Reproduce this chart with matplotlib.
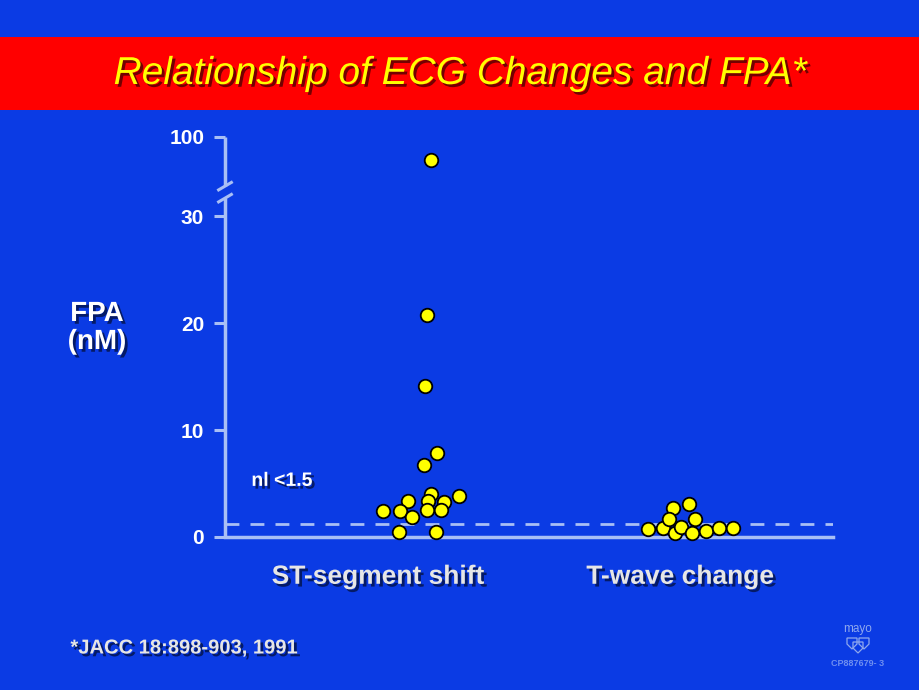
import numpy as np
import matplotlib
matplotlib.use("Agg")
import matplotlib.pyplot as plt
import matplotlib.patheffects as pe
from matplotlib.patches import Rectangle, Polygon

plt.rcParams['font.family'] = ['Liberation Sans', 'DejaVu Sans']

# ---- data ----
categories = ["ST-segment shift", "T-wave change"]
st_values = [80, 20.8, 14.1, 7.9, 6.7, 4.0, 3.8, 3.4, 3.4, 3.3, 2.4, 2.4, 2.5, 2.5, 1.9, 0.5, 0.5]
st_jitter = [0.175, 0.162, 0.156, 0.195, 0.152, 0.175, 0.268, 0.099, 0.166, 0.219, 0.017, 0.073, 0.162, 0.209, 0.113, 0.070, 0.192]
tw_values = [0.75, 0.85, 2.7, 3.1, 1.7, 1.7, 0.4, 0.9, 0.4, 0.55, 0.85, 0.85]
tw_jitter = [-0.106, -0.056, -0.023, 0.030, -0.036, 0.050, -0.017, 0.003, 0.040, 0.086, 0.129, 0.175]
normal_limit = 1.2
y_ticks = [0, 10, 20, 30, 100]
y_ticklabels = ["0", "10", "20", "30", "100"]

BG = "#0b3be4"
AXC = "#a9bff5"

# broken-axis scale: linear to 30, compressed above
K = 7.4 / 70.0
def fwd(v):
    v = np.asarray(v, dtype=float)
    return np.where(v <= 30, v, 30 + (v - 30) * K)
def inv(u):
    u = np.asarray(u, dtype=float)
    return np.where(u <= 30, u, 30 + (u - 30) / K)

fig = plt.figure(figsize=(9.2, 6.9), dpi=100, facecolor=BG)

# red title bar
fig.patches.append(Rectangle((0, 1 - 110/690), 1, 73/690, transform=fig.transFigure,
                             facecolor="#ff0000", edgecolor="none", zorder=0))
shadow = [pe.withSimplePatchShadow(offset=(2, -2), shadow_rgbFace="black", alpha=0.55)]
fig.text(0.5, 1 - 74/690, "Relationship of ECG Changes and FPA*", ha="center", va="center",
         fontsize=28, color="#ffff00", style="italic", path_effects=shadow)

ax = fig.add_axes([225/920, 1 - 537/690, 608/920, 400/690])
ax.set_facecolor(BG)
ax.set_yscale('function', functions=(fwd, inv))
ax.set_ylim(0, 100)
ax.set_xlim(0.493, 2.507)

for s in ["top", "right", "left"]:
    ax.spines[s].set_visible(False)
ax.spines["bottom"].set_color(AXC)
ax.spines["bottom"].set_linewidth(2.5)

# left spine with break
u_break_lo = fwd(30) + (215 - 197) / 10.7
u_break_hi = fwd(30) + (215 - 185) / 10.7
yl = inv(u_break_lo).item()
yh = inv(u_break_hi).item()
tr = ax.get_yaxis_transform()
ax.plot([0, 0], [0, yl], color=AXC, lw=2.5, transform=tr, clip_on=False, solid_capstyle="butt")
ax.plot([0, 0], [yh, 100], color=AXC, lw=2.5, transform=tr, clip_on=False, solid_capstyle="butt")
for yv in (yl, yh):
    ax.plot([-0.0105, 0.0105], [inv(fwd(yv) - 0.35).item(), inv(fwd(yv) + 0.35).item()],
            color=AXC, lw=2.2, transform=tr, clip_on=False)

ax.set_yticks(y_ticks)
ax.set_yticklabels(y_ticklabels)
ax.tick_params(axis="y", length=8, width=2.2, color=AXC, labelcolor="white",
               labelsize=15, pad=7)
for t in ax.get_yticklabels():
    t.set_fontweight("bold")
ax.set_xticks([1, 2])
ax.set_xticklabels(categories)
ax.tick_params(axis="x", length=0, labelcolor="#e6e6e6", labelsize=19, pad=20)
for t in ax.get_xticklabels():
    t.set_fontweight("bold")
    t.set_path_effects(shadow)

# dashed normal line
ax.axhline(normal_limit, color=AXC, lw=2, ls=(0, (5, 4)), zorder=1)

# points
ax.scatter(1 + np.array(st_jitter), st_values, s=95, c="#ffff00", edgecolors="black",
           linewidths=1.3, zorder=3, clip_on=False)
ax.scatter(2 + np.array(tw_jitter), tw_values, s=95, c="#ffff00", edgecolors="black",
           linewidths=1.3, zorder=3, clip_on=False)

ax.text(0.682, 5.2, "nl <1.5", color="white", fontsize=14, fontweight="bold",
        va="center", ha="center", path_effects=shadow)

fig.text(97/920, 1 - 328/690, "FPA\n(nM)", ha="center", va="center", color="white",
         fontsize=20, fontweight="bold", linespacing=1.1, path_effects=shadow)

fig.text(184/920, 1 - 648/690, "*JACC 18:898-903, 1991", ha="center", va="center",
         color="#e6e6e6", fontsize=14.5, fontweight="bold", path_effects=shadow)

# mayo logo
fig.text(858/920, 1 - 629/690, "mayo", ha="center", va="center", color="#8fa8ee", fontsize=8.5)
for cx, cy in [(852, 643), (864, 643), (858, 647)]:
    pts = [(cx - 5, cy - 5), (cx + 5, cy - 5), (cx + 5, cy + 1), (cx, cy + 6), (cx - 5, cy + 1)]
    fig.patches.append(Polygon([(x/920, 1 - y/690) for x, y in pts], closed=True,
                               transform=fig.transFigure, facecolor="none",
                               edgecolor="#8fa8ee", lw=0.9))
fig.text(858/920, 1 - 664/690, "CP887679- 3", ha="center", va="center", color="#6f8ff0",
         fontsize=6.5, fontweight="bold")

fig.savefig("out.png", dpi=100, facecolor=BG)
